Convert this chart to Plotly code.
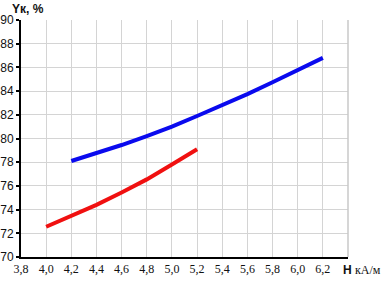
import plotly.graph_objects as go

# Data
h_blue = [4.2, 4.4, 4.6, 4.8, 5.0, 5.2, 5.4, 5.6, 5.8, 6.0, 6.2]
y_blue = [78.1, 78.75, 79.45, 80.2, 81.0, 81.9, 82.8, 83.75, 84.75, 85.75, 86.8]

h_red = [4.0, 4.2, 4.4, 4.6, 4.8, 5.0, 5.2]
y_red = [72.55, 73.45, 74.4, 75.45, 76.55, 77.8, 79.1]

x_ticks = [3.8, 4.0, 4.2, 4.4, 4.6, 4.8, 5.0, 5.2, 5.4, 5.6, 5.8, 6.0, 6.2, 6.4]
x_ticktext = ["3,8", "4,0", "4,2", "4,4", "4,6", "4,8", "5,0", "5,2", "5,4", "5,6", "5,8", "6,0", "6,2", ""]
y_ticks = [70, 72, 74, 76, 78, 80, 82, 84, 86, 88, 90]

fig = go.Figure()
fig.add_trace(go.Scatter(x=h_blue, y=y_blue, mode="lines",
                         line=dict(color="#0a0aee", width=4), showlegend=False))
fig.add_trace(go.Scatter(x=h_red, y=y_red, mode="lines",
                         line=dict(color="#f01010", width=4), showlegend=False))

fig.update_layout(
    width=383, height=282,
    margin=dict(l=21, r=35, t=20, b=25),
    paper_bgcolor="white", plot_bgcolor="white",
    showlegend=False,
    xaxis=dict(range=[3.8, 6.4], tickvals=x_ticks, ticktext=x_ticktext,
               automargin=False,
               showgrid=True, gridcolor="#d4d4d4", gridwidth=1,
               showline=True, linecolor="black", linewidth=2,
               ticks="", zeroline=False,
               tickfont=dict(family="Liberation Serif", size=12, color="#111")),
    yaxis=dict(range=[70, 90], tickvals=y_ticks,
               automargin=False,
               showgrid=True, gridcolor="#d4d4d4", gridwidth=1,
               showline=True, linecolor="black", linewidth=2,
               ticks="outside", ticklen=3, tickwidth=2, tickcolor="black",
               zeroline=False,
               tickfont=dict(family="Liberation Sans", size=12, color="#111")),
    shapes=[dict(type="line", xref="paper", yref="paper", x0=1, x1=1, y0=0, y1=1,
                 line=dict(color="#c8c8c8", width=1.5))],
    annotations=[
        dict(text="<b>Yк, %</b>", xref="paper", yref="paper", x=0, y=1,
             xanchor="left", yanchor="bottom", xshift=-11, yshift=2, showarrow=False,
             font=dict(family="Liberation Sans", size=12, color="#111")),
        dict(text="<b>H</b>", xref="paper", yref="paper", x=1, y=0,
             xanchor="center", yanchor="middle", xshift=-1, yshift=-13, showarrow=False,
             font=dict(family="Liberation Sans", size=12, color="#111")),
        dict(text="кА/м", xref="paper", yref="paper", x=1, y=0,
             xanchor="left", yanchor="middle", xshift=5, yshift=-13, showarrow=False,
             font=dict(family="Liberation Serif", size=12, color="#111")),
    ],
)

fig.write_html("out.html", config={"displayModeBar": False},
               post_script="document.body.style.margin='0';document.body.style.overflow='hidden';")
